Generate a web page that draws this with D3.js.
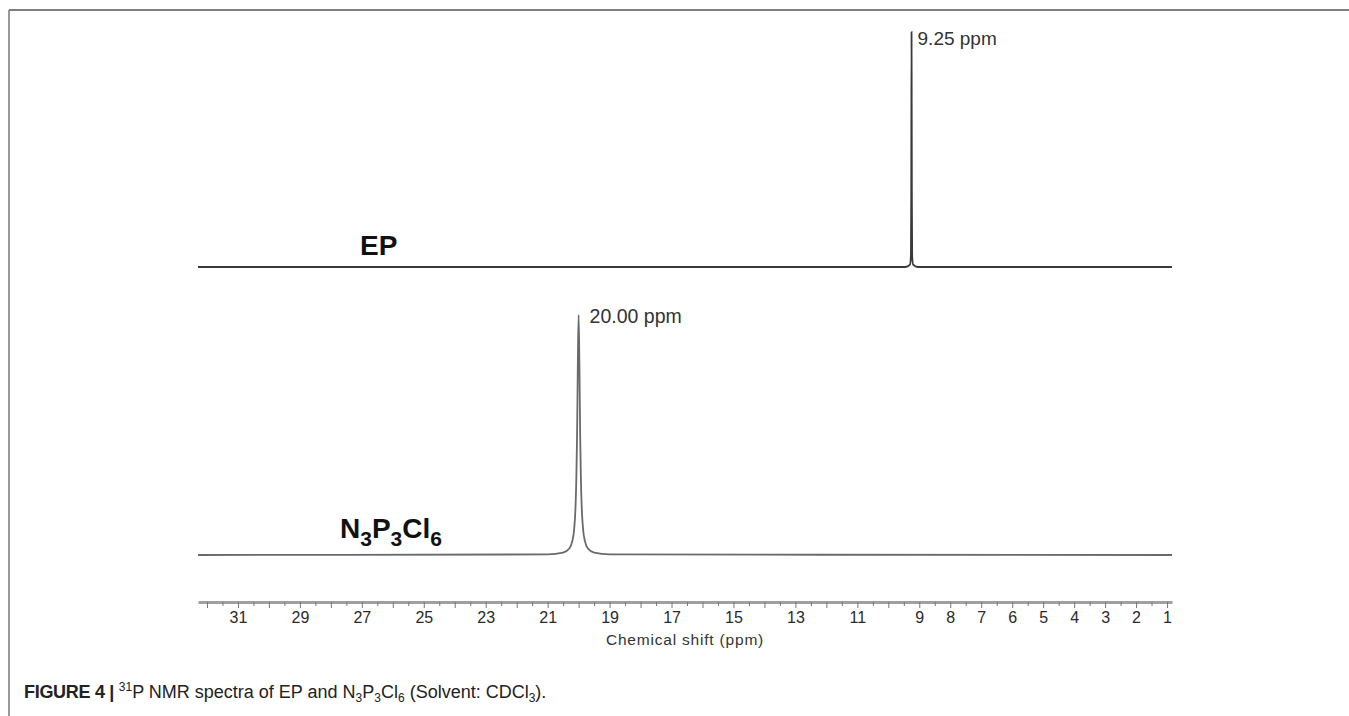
<!DOCTYPE html>
<html>
<head>
<meta charset="utf-8">
<script src="https://cdn.jsdelivr.net/npm/d3@7"></script>
<style>
  body { margin: 0; background: #fff; }
  svg text { font-family: Arial, "Liberation Sans", sans-serif; }
</style>
</head>
<body>
<svg id="nmr" width="1349" height="716"></svg>
<script>
// axis labels as printed on the figure
var tickLabels = [31, 29, 27, 25, 23, 21, 19, 17, 15, 13, 11, 9, 8, 7, 6, 5, 4, 3, 2, 1];

// EP spectrum (ppm, relative intensity)
var epShift = [32.29, 9.45, 9.30, 9.27, 9.26, 9.25, 9.24, 9.23, 9.20, 9.05, 0.84];
var epIntensity = [0, 0, 0.01, 0.05, 0.3, 1, 0.3, 0.05, 0.01, 0, 0];

// N3P3Cl6 spectrum
var napShift = [32.29, 21.0, 20.50, 20.30, 20.20, 20.15, 20.10, 20.075, 20.05, 20.025, 20.00,
                19.975, 19.95, 19.925, 19.90, 19.85, 19.80, 19.70, 19.50, 19.0, 0.84];
var napIntensity = [0, 0.0025, 0.01, 0.027, 0.06, 0.1, 0.2, 0.31, 0.5, 0.8, 1,
                    0.8, 0.5, 0.31, 0.2, 0.1, 0.06, 0.027, 0.01, 0.0025, 0];

var peakLabels = ["9.25 ppm", "20.00 ppm"];

var svg = d3.select("#nmr");

// frame lines
svg.append("line").attr("x1", 9).attr("y1", 10).attr("x2", 1349).attr("y2", 10)
    .attr("stroke", "#555").attr("stroke-width", 1.5);
svg.append("line").attr("x1", 9).attr("y1", 10).attr("x2", 9).attr("y2", 716)
    .attr("stroke", "#777").attr("stroke-width", 1.5);

var x = d3.scaleLinear().domain([32.29, 0.84]).range([198, 1172]);
var yEP = d3.scaleLinear().domain([0, 1]).range([267, 32]);
var yNap = d3.scaleLinear().domain([0, 1]).range([555, 315]);

function spectrum(shift, inten, y, color) {
    var pts = shift.map(function (d, i) { return [d, inten[i]]; });
    var line = d3.line()
        .x(function (d) { return x(d[0]); })
        .y(function (d) { return y(d[1]); })
        .curve(d3.curveMonotoneX);
    svg.append("path")
        .datum(pts)
        .attr("d", line)
        .attr("fill", "none")
        .attr("stroke", color)
        .attr("stroke-width", 1.8);
}

spectrum(epShift, epIntensity, yEP, "#3a3a3a");
spectrum(napShift, napIntensity, yNap, "#6a6a6a");

// peak labels
svg.append("text").attr("x", x(9.25) + 6).attr("y", 45)
    .attr("font-size", 19).attr("fill", "#333").text(peakLabels[0]);
svg.append("text").attr("x", x(20.00) + 11).attr("y", 323)
    .attr("font-size", 19.5).attr("fill", "#333").text(peakLabels[1]);

// sample names
svg.append("text").attr("x", 360).attr("y", 255)
    .attr("font-size", 28).attr("font-weight", "bold").attr("fill", "#111").text("EP");
var nap = svg.append("text").attr("x", 340).attr("y", 538)
    .attr("font-size", 28).attr("font-weight", "bold").attr("fill", "#111");
[["N", false], ["3", true], ["P", false], ["3", true], ["Cl", false], ["6", true]].forEach(function (p) {
    nap.append("tspan").text(p[0])
        .attr("font-size", p[1] ? 21 : 28)
        .attr("dy", p[1] ? 8 : (p[0] === "N" ? 0 : -8));
});

// axis
var ax = svg.append("g").attr("transform", "translate(0,602)");
var halves = d3.range(2, 65).map(function (d) { return d / 2; }).filter(function (d) { return d <= 32.29 && d >= 0.84; });
ax.call(d3.axisBottom(x).tickValues(halves).tickSizeOuter(0).tickFormat(""));
ax.select(".domain").attr("stroke", "#a0a0a0").attr("stroke-width", 3);
ax.selectAll(".tick line")
    .attr("stroke", "#777")
    .attr("y2", function (d) { return d % 1 === 0 ? 6 : 4; });

var lab = svg.append("g").attr("transform", "translate(0,602)")
    .call(d3.axisBottom(x).tickValues(tickLabels).tickSize(0).tickPadding(10).tickFormat(d3.format("d")));
lab.select(".domain").remove();
lab.selectAll("text").attr("font-size", 16).attr("fill", "#2a2a2a").attr("font-family", "Arial, 'Liberation Sans', sans-serif");

svg.append("text").attr("x", 685).attr("y", 645).attr("text-anchor", "middle")
    .attr("font-size", 15.5).attr("letter-spacing", 0.8).attr("fill", "#333").text("Chemical shift (ppm)");

// caption
var cap = svg.append("text").attr("x", 24).attr("y", 698)
    .attr("font-size", 18).attr("fill", "#222");
cap.append("tspan").attr("font-weight", "bold").attr("letter-spacing", -0.3).text("FIGURE 4 | ");
cap.append("tspan").attr("font-size", 12).attr("dy", -7).text("31");
cap.append("tspan").attr("dy", 7).text("P NMR spectra of EP and N");
cap.append("tspan").attr("font-size", 12).attr("dy", 4).text("3");
cap.append("tspan").attr("dy", -4).text("P");
cap.append("tspan").attr("font-size", 12).attr("dy", 4).text("3");
cap.append("tspan").attr("dy", -4).text("Cl");
cap.append("tspan").attr("font-size", 12).attr("dy", 4).text("6");
cap.append("tspan").attr("dy", -4).text(" (Solvent: CDCl");
cap.append("tspan").attr("font-size", 12).attr("dy", 4).text("3");
cap.append("tspan").attr("dy", -4).text(").");
</script>
</body>
</html>
